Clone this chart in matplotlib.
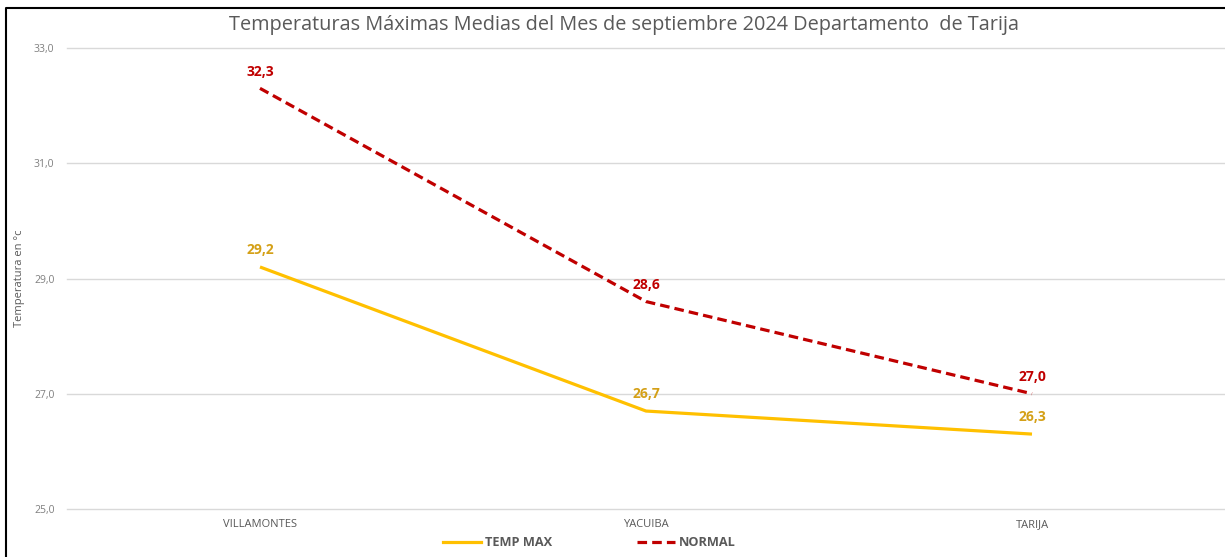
import matplotlib.pyplot as plt
from matplotlib.lines import Line2D

# --- Data ---
estaciones = ["VILLAMONTES", "YACUIBA", "TARIJA"]
temp_max = [29.2, 26.7, 26.3]
normal = [32.3, 28.6, 27.0]
y_ticks = [25.0, 27.0, 29.0, 31.0, 33.0]

C_MAX = "#FFC000"
C_MAX_LBL = "#D4A017"
C_NORMAL = "#C00000"
GREY = "#595959"
DASH = (0, (3, 1.6))

plt.rcParams['font.family'] = ['Open Sans', 'DejaVu Sans']

fig = plt.figure(figsize=(12.25, 5.57), dpi=100)
ax = fig.add_axes([67 / 1225, 1 - 509 / 557, 1 - 67 / 1225, (509 - 48) / 557])

x = range(len(estaciones))
ax.plot(x, temp_max, color=C_MAX, lw=2.3, solid_capstyle='butt')
ax.plot(x, normal, color=C_NORMAL, lw=2.3, ls=DASH)

# data labels
for i, v in enumerate(temp_max):
    ax.annotate(f"{v:.1f}".replace(".", ","), (i, v), xytext=(0, 7), textcoords='offset points',
                ha='center', va='bottom', fontsize=10, fontweight='bold', color=C_MAX_LBL)
for i, v in enumerate(normal):
    ax.annotate(f"{v:.1f}".replace(".", ","), (i, v), xytext=(0, 7), textcoords='offset points',
                ha='center', va='bottom', fontsize=10, fontweight='bold', color=C_NORMAL)

ax.set_xlim(-0.5, 2.5)
ax.set_ylim(25, 33)
ax.set_yticks(y_ticks)
ax.set_yticklabels([f"{t:.1f}".replace(".", ",") for t in y_ticks], fontsize=7.5, color="#7F7F7F")
ax.set_xticks(list(x))
ax.set_xticklabels(estaciones, fontsize=8, color=GREY)
ax.tick_params(length=0, axis='y', pad=9)
ax.tick_params(length=0, axis='x', pad=7)
ax.grid(axis='y', color="#D9D9D9", lw=1)
for gl in ax.get_ygridlines():
    gl.set_clip_on(False)
ax.set_axisbelow(True)
for s in ax.spines.values():
    s.set_visible(False)

ax.set_ylabel("Temperatura en °c", fontsize=8, color=GREY)
ax.yaxis.set_label_coords(-0.036, 0.5)

fig.text(0.509, 1 - 25 / 557, "Temperaturas Máximas Medias del Mes de septiembre 2024 Departamento  de Tarija",
         ha='center', va='center', fontsize=14.3, color=GREY)

# legend
handles = [Line2D([0], [0], color=C_MAX, lw=2.3),
           Line2D([0], [0], color=C_NORMAL, lw=2.3, ls=DASH)]
leg = fig.legend(handles, ["TEMP MAX", "NORMAL"], loc='center', bbox_to_anchor=(0.481, 1 - 543 / 557),
                 ncol=2, frameon=False, handlelength=3.0, handletextpad=0.3, columnspacing=6.6,
                 prop={'size': 9.2, 'weight': 'bold'})
for t in leg.get_texts():
    t.set_color(GREY)

# outer frame (top and left edges visible)
fig.add_artist(Line2D([6 / 1225, 6 / 1225, 1], [0, 1 - 8 / 557, 1 - 8 / 557], color='black', lw=1.5,
                      transform=fig.transFigure))

fig.savefig("out.png", dpi=100)
